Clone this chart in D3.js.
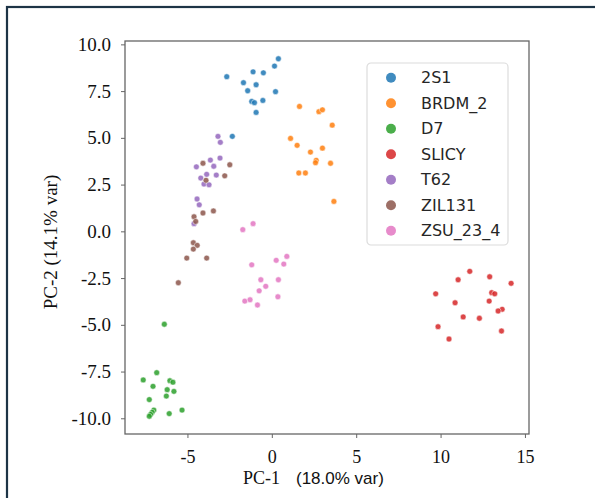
<!DOCTYPE html>
<html>
<head>
<meta charset="utf-8">
<title>PCA scatter</title>
<script src="https://cdn.jsdelivr.net/npm/d3@7"></script>
<style>
  body { margin: 0; background: #fff; }
  svg { display: block; }
</style>
</head>
<body>
<div id="container"></div>
<script>
// values, [PC-1, PC-2]
var classes = ["2S1", "BRDM_2", "D7", "SLICY", "T62", "ZIL131", "ZSU_23_4"];
var colors = ["#1f77b4", "#ff7f0e", "#2ca02c", "#d62728", "#9467bd", "#8c564b", "#e377c2"];

var pts2S1 = [[-2.67,8.27],[-1.68,7.95],[-1.11,8.53],[-0.50,8.48],[-0.93,7.84],[-1.43,7.52],[0.16,8.84],
  [0.39,9.23],[0.22,7.47],[-1.19,6.95],[-1.03,6.88],[-0.53,7.00],[-0.93,6.36],[-2.34,5.08]];
var ptsBRDM2 = [[1.64,6.68],[2.79,6.40],[3.00,6.50],[3.58,5.68],[1.11,4.97],[1.50,4.60],[2.29,4.24],
  [3.00,4.45],[2.63,3.80],[2.59,3.67],[3.48,3.64],[1.60,3.12],[1.99,3.12],[3.68,1.60]];
var ptsD7 = [[-6.37,-4.97],[-6.82,-7.56],[-7.62,-7.95],[-6.04,-7.99],[-5.86,-8.07],[-7.04,-8.29],[-6.20,-8.47],
  [-5.80,-8.56],[-6.25,-8.81],[-7.26,-9.00],[-5.32,-9.56],[-6.99,-9.56],[-7.09,-9.68],[-7.18,-9.79],
  [-7.26,-9.89],[-6.08,-9.75]];
var ptsSLICY = [[11.73,-2.14],[12.91,-2.43],[11.04,-2.59],[14.18,-2.78],[9.71,-3.34],[13.03,-3.28],[13.21,-3.34],
  [10.86,-3.82],[12.88,-3.73],[13.65,-4.17],[13.41,-4.26],[11.34,-4.58],[12.30,-4.65],[9.85,-5.10],
  [13.61,-5.33],[10.50,-5.76]];
var ptsT62 = [[-3.19,5.08],[-3.05,4.76],[-3.64,3.81],[-3.07,3.92],[-4.47,3.45],[-3.44,3.48],[-3.86,3.05],
  [-3.29,3.01],[-4.21,2.85],[-4.02,2.53],[-3.72,2.49],[-4.43,1.73],[-4.30,1.42],[-4.61,0.41]];
var ptsZIL131 = [[-4.08,3.64],[-2.49,3.56],[-2.79,2.97],[-3.90,2.73],[-3.46,1.09],[-4.08,0.98],[-4.61,0.78],
  [-4.51,0.53],[-4.65,-0.61],[-4.42,-0.75],[-4.65,-0.95],[-5.04,-1.43],[-3.86,-1.43],[-5.54,-2.75]];
var ptsZSU = [[-1.72,0.09],[-1.11,0.41],[-1.19,-1.79],[0.26,-1.55],[0.89,-1.34],[0.71,-1.75],[-0.65,-2.59],
  [0.39,-2.59],[-0.36,-2.94],[-0.75,-3.18],[0.36,-3.50],[-1.60,-3.73],[-1.29,-3.66],[-0.85,-3.94]];

var series = [pts2S1, ptsBRDM2, ptsD7, ptsSLICY, ptsT62, ptsZIL131, ptsZSU];
var xTicks = [-5, 0, 5, 10, 15];
var yTicks = [-10, -7.5, -5, -2.5, 0, 2.5, 5, 7.5, 10];

var W = 595, H = 498;
var plot = {left: 125, right: 529, top: 41, bottom: 434};
var serif = "'Liberation Serif', 'Times New Roman', serif";

var svg = d3.select("#container").append("svg")
    .attr("width", W)
    .attr("height", H);

// dark page frame, only the top and left edges show
svg.append("rect")
    .attr("x", 7).attr("y", 7)
    .attr("width", W + 20).attr("height", H + 20)
    .attr("fill", "none")
    .attr("stroke", "#1d3446")
    .attr("stroke-width", 2.2);

var xScale = d3.scaleLinear().domain([-8.7, 15.24]).range([plot.left, plot.right]);
var yScale = d3.scaleLinear().domain([-10.84, 10.18]).range([plot.bottom, plot.top]);

// plain hyphen for negatives, like the original
function hyph(fmt) {
  var f = d3.format(fmt);
  return function(d) { return f(d).replace("\u2212", "-"); };
}

var xAxis = d3.axisBottom(xScale).tickValues(xTicks).tickSize(4).tickPadding(12)
    .tickFormat(hyph("d"));
var yAxis = d3.axisLeft(yScale).tickValues(yTicks).tickSize(4).tickPadding(10)
    .tickFormat(hyph(".1f"));

svg.append("g")
    .attr("class", "ax x-ax")
    .attr("transform", "translate(0," + plot.bottom + ")")
    .call(xAxis);
svg.append("g")
    .attr("class", "ax y-ax")
    .attr("transform", "translate(" + plot.left + ",0)")
    .call(yAxis);

d3.selectAll(".ax .domain").remove();
d3.selectAll(".ax .tick line").attr("stroke", "#666").attr("stroke-width", 1);
d3.selectAll(".ax .tick text")
    .attr("fill", "#111")
    .style("font-family", serif)
    .style("font-size", "19px");
d3.selectAll(".x-ax .tick text").style("font-size", "18px");

// points
for (var i = 0; i < series.length; i++) {
  svg.append("g")
    .selectAll("circle")
    .data(series[i])
    .enter()
    .append("circle")
    .attr("cx", function(d) { return xScale(d[0]); })
    .attr("cy", function(d) { return yScale(d[1]); })
    .attr("r", 2.9)
    .attr("fill", colors[i])
    .attr("fill-opacity", 0.85)
    .attr("stroke", "#fff")
    .attr("stroke-width", 0.5);
}

// plot frame
svg.append("rect")
    .attr("x", plot.left).attr("y", plot.top)
    .attr("width", plot.right - plot.left)
    .attr("height", plot.bottom - plot.top)
    .attr("fill", "none")
    .attr("stroke", "#666")
    .attr("stroke-width", 1.3);

// legend
var legend = svg.append("g").attr("transform", "translate(367,63)");
legend.append("rect")
    .attr("width", 141).attr("height", 182)
    .attr("rx", 4)
    .attr("fill", "#fff")
    .attr("fill-opacity", 0.8)
    .attr("stroke", "#dcdcdc")
    .attr("stroke-width", 1.2);

var items = legend.selectAll(".item")
    .data(classes)
    .enter()
    .append("g")
    .attr("class", "item")
    .attr("transform", function(d, i) { return "translate(0," + (14.7 + i * 25.5) + ")"; });
items.append("circle")
    .attr("cx", 24).attr("r", 5)
    .attr("fill", function(d, i) { return colors[i]; })
    .attr("fill-opacity", 0.85);
items.append("text")
    .attr("x", 54)
    .attr("dy", "0.36em")
    .text(function(d) { return d; })
    .style("font-family", "'DejaVu Sans', sans-serif")
    .style("font-size", "16px")
    .attr("fill", "#262626");

// axis titles
var xt = svg.append("text")
    .attr("y", 484)
    .attr("fill", "#111");
xt.append("tspan")
    .attr("x", 243)
    .style("font-family", serif)
    .style("font-size", "18px")
    .text("PC-1");
xt.append("tspan")
    .attr("x", 296)
    .style("font-family", "'Liberation Sans', Arial, sans-serif")
    .style("font-size", "17px")
    .text("(18.0% var)");

svg.append("text")
    .attr("transform", "translate(57,242) rotate(-90)")
    .attr("text-anchor", "middle")
    .attr("fill", "#111")
    .style("font-family", serif)
    .style("font-size", "19px")
    .text("PC-2 (14.1% var)");
</script>
</body>
</html>
